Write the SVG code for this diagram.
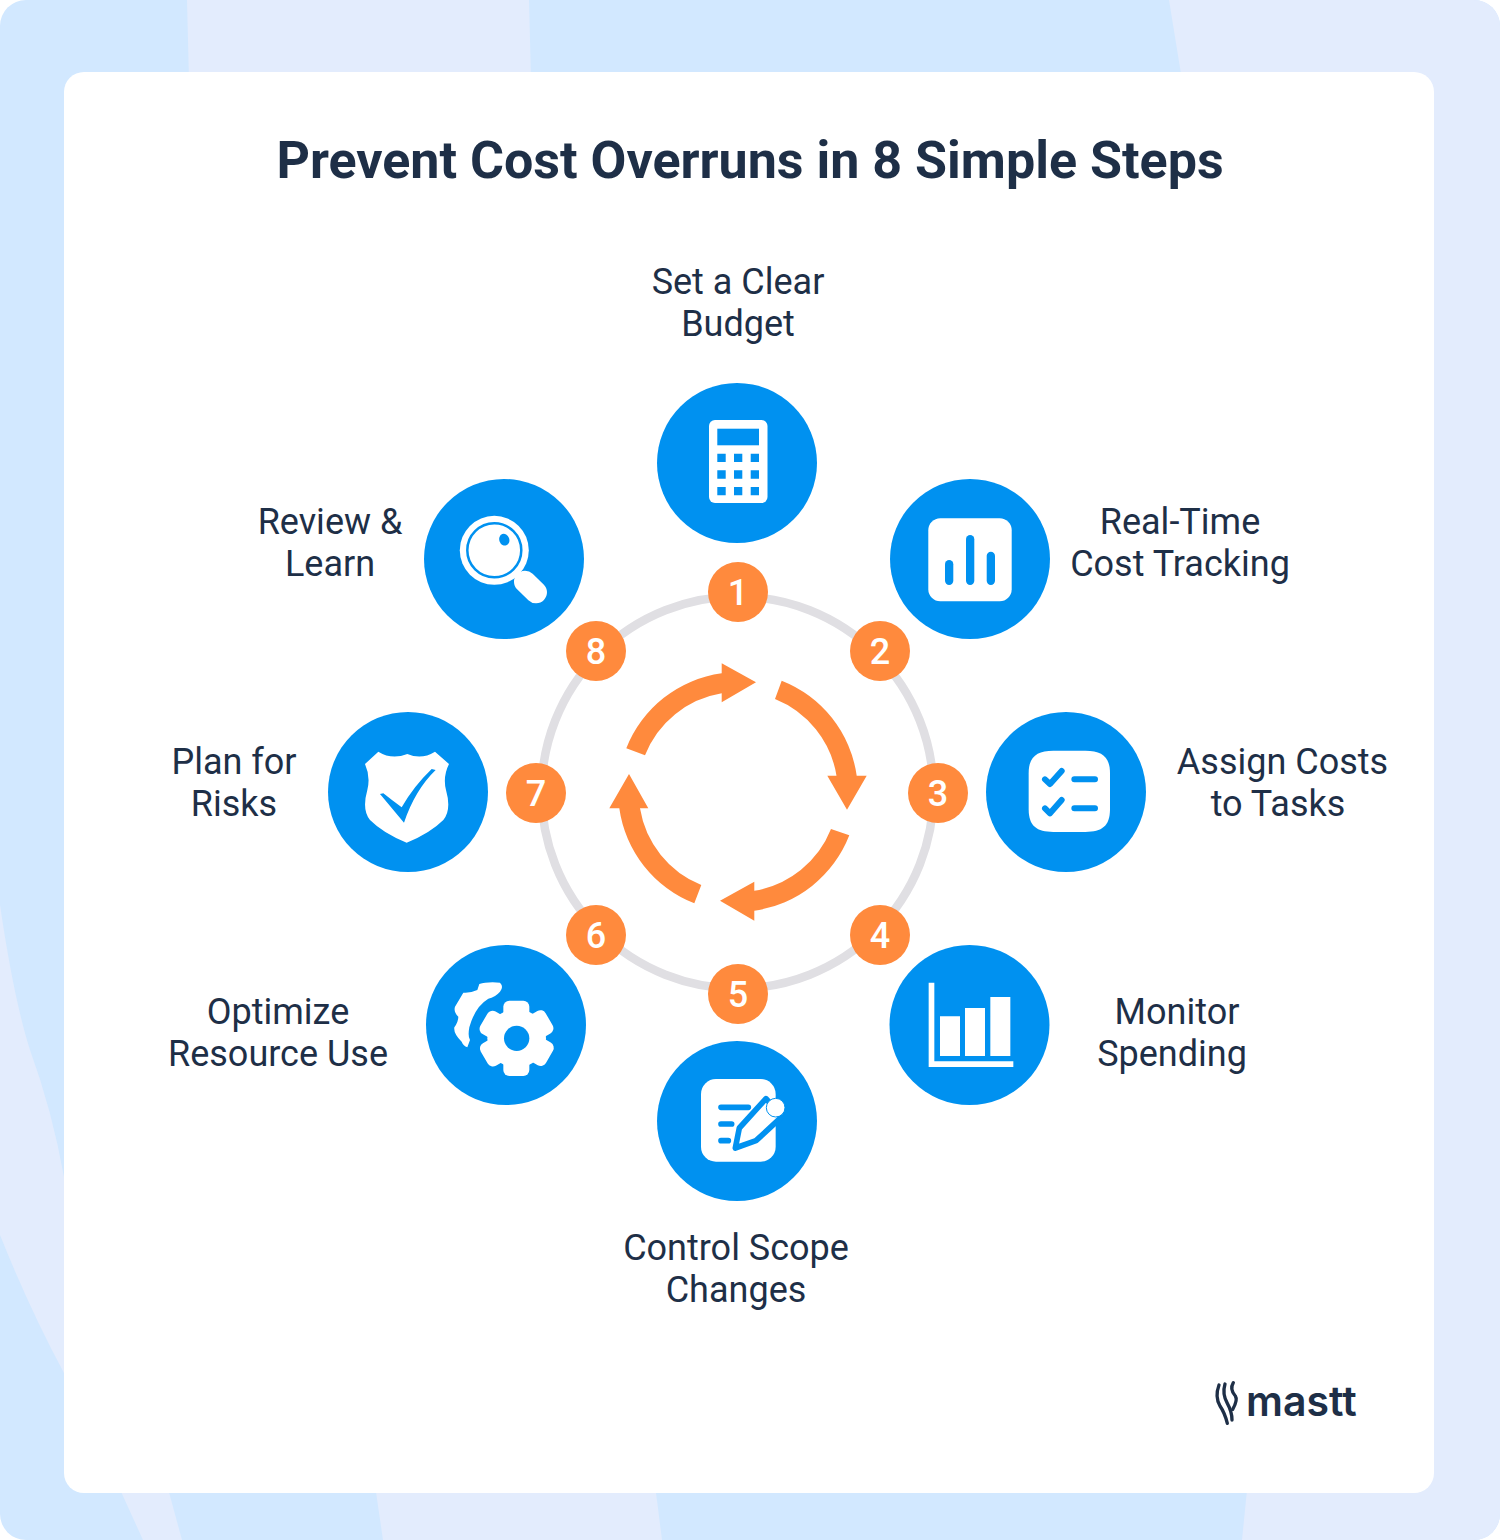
<svg xmlns="http://www.w3.org/2000/svg" width="1500" height="1540" viewBox="0 0 1500 1540">
<style>
.disc{fill:#0091F0}
.w{fill:#fff}
.b{fill:#0091F0}
.bl{fill:none;stroke:#0091F0;stroke-linecap:round;stroke-linejoin:round}
.badge{fill:#FF8A3D}
.num{font:500 36px Roboto,sans-serif;fill:#fff;text-anchor:middle}
.lab{font:400 36px Roboto,sans-serif;fill:#1E2F47;text-anchor:middle}
.title{font:700 52px Roboto,sans-serif;fill:#1E2F47;text-anchor:middle}
.arrow{fill:#FF8A3D}
.light{fill:#E3ECFD}
</style>
<defs><clipPath id="page"><rect width="1500" height="1540" rx="26"/></clipPath></defs>
<g id="background" clip-path="url(#page)">
<rect width="1500" height="1540" fill="#D2E8FF"/>
<polygon class="light" points="187,0 529,0 531,80 189,80"/>
<polygon class="light" points="1169,0 1500,0 1500,1540 1242,1540 1248,1480 1182,80"/>
<path class="light" d="M0 905Q14 1000 30 1050Q52 1110 64 1177V1373Q30 1310 0 1235Z"/>
<polygon class="light" points="118,1485 167,1485 182,1540 143,1540"/>
<polygon class="light" points="375,1485 655,1485 662,1540 383,1540"/>
<rect x="64" y="72" width="1370" height="1421" rx="20" fill="#fff"/>
</g>
<text class="title" x="750" y="178">Prevent Cost Overruns in 8 Simple Steps</text>
<g id="connectors">
<circle cx="737.500" cy="792.500" r="196" fill="none" stroke="#E0DFE3" stroke-width="8.500"/>
<path class="arrow" d="M626.300 748.300A120 120 0 0 1 721.700 673.300V663.300L756 682.300L721.700 702.300V693.300A100 100 0 0 0 645 755.300Z"/>
<path class="arrow" d="M781.700 680.700A120 120 0 0 1 856.700 775.700H866.700L847 809.700L827.300 775.700H836.500A100 100 0 0 0 775 699Z"/>
<path class="arrow" d="M849.300 835.300A120 120 0 0 1 754.300 910.700V920.700L720 900.700L754.300 881.700V890.700A100 100 0 0 0 831 829Z"/>
<path class="arrow" d="M694.300 903.300A120 120 0 0 1 619.300 808.300H609.300L629 774L648.300 808.300H640A100 100 0 0 0 701.300 885Z"/>
</g>
<g id="node-1">
<circle class="disc" cx="737" cy="463" r="80"/>
<rect class="w" x="709" y="420" width="58.500" height="83" rx="6"/>
<rect class="b" x="717.300" y="428.700" width="41.700" height="16.600"/>
<path class="b" d="M717.300 453.700h8.400v8.300h-8.400zM734 453.700h8.300v8.300H734zM750.700 453.700h8.300v8.300h-8.300zM717.300 470.300h8.400v8.400h-8.400zM734 470.300h8.300v8.400H734zM750.700 470.300h8.300v8.400h-8.300zM717.300 487h8.400v8.300h-8.400zM734 487h8.300v8.300H734zM750.700 487h8.300v8.300h-8.300z"/>
<circle class="badge" cx="738" cy="592" r="30"/><text class="num" x="738" y="605">1</text>
<text class="lab" x="738" y="294">Set a Clear</text><text class="lab" x="738" y="336">Budget</text>
</g>
<g id="node-2">
<circle class="disc" cx="970" cy="559" r="80"/>
<rect class="w" x="928.300" y="518.300" width="83.400" height="83" rx="12"/>
<rect class="b" x="945" y="560" width="8.300" height="25" rx="4.150"/>
<rect class="b" x="966" y="535" width="8.300" height="50" rx="4.150"/>
<rect class="b" x="986.700" y="551.700" width="8.300" height="33.300" rx="4.150"/>
<circle class="badge" cx="880" cy="651" r="30"/><text class="num" x="880" y="664">2</text>
<text class="lab" x="1180" y="534">Real-Time</text><text class="lab" x="1180" y="576">Cost Tracking</text>
</g>
<g id="node-3">
<circle class="disc" cx="1066" cy="792" r="80"/>
<g transform="translate(980 700) scale(.33333)">
<path class="w" d="M146 220C146 170 170 152 220 152H316C366 152 390 170 390 220V328C390 378 366 396 316 396H220C170 396 146 378 146 328Z"/>
<path class="bl" stroke-width="18" d="M195 238L210 252L245 213M195 325L210 340L245 300M283 238H345M283 325H345"/>
</g>
<circle class="badge" cx="938" cy="793" r="30"/><text class="num" x="938" y="806">3</text>
<text class="lab" x="1282.500" y="774">Assign Costs</text><text class="lab" x="1278" y="816">to Tasks</text>
</g>
<g id="node-4">
<circle class="disc" cx="969.500" cy="1025" r="80"/>
<g transform="translate(880 940) scale(.33333)">
<path class="w" d="M146 128H163V364H400V381H146ZM180 229H240V348H180ZM255 204H315V348H255ZM331 171H391V348H331Z"/>
</g>
<circle class="badge" cx="880" cy="935" r="30"/><text class="num" x="880" y="948">4</text>
<text class="lab" x="1177" y="1024">Monitor</text><text class="lab" x="1172" y="1066">Spending</text>
</g>
<g id="node-5">
<circle class="disc" cx="737" cy="1121" r="80"/>
<g transform="translate(650 1040) scale(.33333)">
<rect class="w" x="153" y="117" width="224" height="248" rx="45"/>
<path class="bl" stroke-width="17" d="M213 202H295M213 252H245M213 302H235"/>
<path class="w" stroke="#0091F0" stroke-width="17" stroke-linejoin="round" d="M256 324L268 264L348 176L396 230L318 302Z"/>
<circle class="w" cx="377" cy="203" r="28" stroke="#0091F0" stroke-width="3"/>
</g>
<circle class="badge" cx="738" cy="994" r="30"/><text class="num" x="738" y="1007">5</text>
<text class="lab" x="736" y="1260">Control Scope</text><text class="lab" x="736" y="1302">Changes</text>
</g>
<g id="node-6">
<circle class="disc" cx="506" cy="1025" r="80"/>
<g transform="translate(420 940) scale(.33333)">
<path class="w" d="M178 132Q200 125 240 128Q252 140 240 155Q225 172 205 176Q165 200 148 262Q143 290 150 300L142 322Q130 318 125 305Q100 280 103 262Q115 245 115 230Q100 215 105 200Q120 175 130 158Q150 160 172 150Z"/>
<circle class="w" cx="290" cy="295" r="88"/>
<g class="w">
<rect x="250" y="182" width="78" height="60" rx="18"/>
<rect x="250" y="348" width="78" height="60" rx="18"/>
<rect x="250" y="182" width="78" height="60" rx="18" transform="rotate(60 290 295)"/>
<rect x="250" y="182" width="78" height="60" rx="18" transform="rotate(120 290 295)"/>
<rect x="250" y="182" width="78" height="60" rx="18" transform="rotate(240 290 295)"/>
<rect x="250" y="182" width="78" height="60" rx="18" transform="rotate(300 290 295)"/>
</g>
<circle class="b" cx="290" cy="295" r="38"/>
</g>
<circle class="badge" cx="596" cy="935" r="30"/><text class="num" x="596" y="948">6</text>
<text class="lab" x="278" y="1024">Optimize</text><text class="lab" x="278" y="1066">Resource Use</text>
</g>
<g id="node-7">
<circle class="disc" cx="408" cy="792" r="80"/>
<g transform="translate(320 700) scale(.33333)">
<path class="w" d="M175 155Q215 180 262 162Q305 180 345 155L387 192Q368 230 378 270Q395 330 370 360Q330 400 260 428Q190 400 150 360Q125 330 142 270Q152 230 135 192Z"/>
<path class="b" d="M180 282L252 368Q285 270 347 210L335 207Q280 260 245 322Q215 300 190 280Z"/>
</g>
<circle class="badge" cx="536" cy="793" r="30"/><text class="num" x="536" y="806">7</text>
<text class="lab" x="234" y="774">Plan for</text><text class="lab" x="234" y="816">Risks</text>
</g>
<g id="node-8">
<circle class="disc" cx="504" cy="559" r="80"/>
<circle class="w" cx="494.300" cy="550.300" r="34.500"/>
<circle cx="494.300" cy="550.300" r="27" fill="none" stroke="#0091F0" stroke-width="2.500"/>
<ellipse class="b" cx="504.300" cy="539.700" rx="5" ry="6" transform="rotate(-20 504.300 539.700)"/>
<line x1="525" y1="581.700" x2="536" y2="592.300" stroke="#fff" stroke-width="22" stroke-linecap="round"/>
<circle class="badge" cx="596" cy="651" r="30"/><text class="num" x="596" y="664">8</text>
<text class="lab" x="330" y="534">Review &amp;</text><text class="lab" x="330" y="576">Learn</text>
</g>
<g id="logo">
<g transform="translate(1200 1370) scale(.33333)" fill="none" stroke="#1E2F47" stroke-width="10" stroke-linecap="round" stroke-linejoin="round">
<path d="M57 45Q44 80 60 108Q74 128 82 160"/>
<path d="M75 42Q66 72 82 100Q96 125 96 150"/>
<path d="M100 38Q88 58 106 78Q114 90 98 118"/>
</g>
<text x="1246" y="1416" style="font:600 41px Inter,Roboto,sans-serif;fill:#1E2F47">mastt</text>
</g>
</svg>
